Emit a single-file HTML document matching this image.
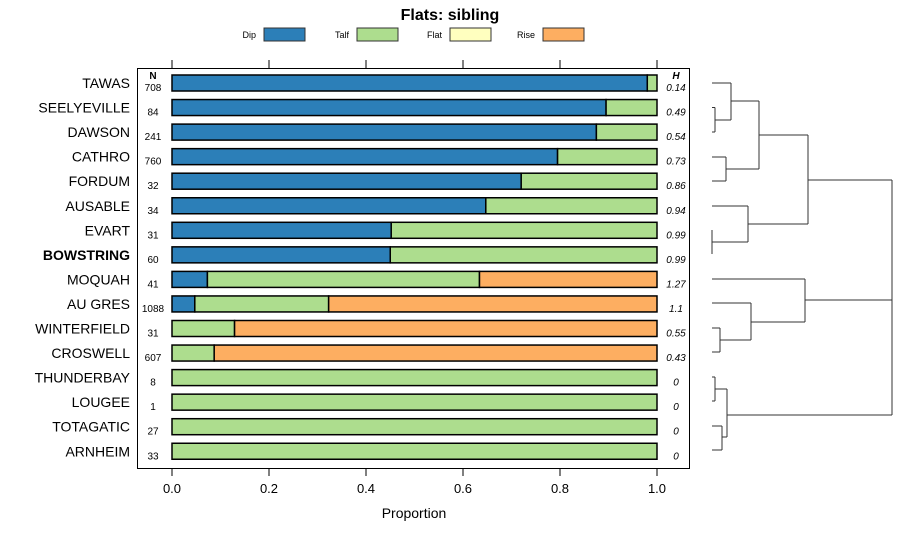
<!DOCTYPE html>
<html><head><meta charset="utf-8"><style>
body{margin:0;background:#fff;font-family:"Liberation Sans",sans-serif}
svg text{font-family:"Liberation Sans",sans-serif}
</style></head><body>
<svg id="c" width="900" height="540" xmlns="http://www.w3.org/2000/svg">
<text x="450" y="20" text-anchor="middle" font-size="16" font-weight="bold">Flats: sibling</text>
<g id="legend"></g>
<rect x="137.5" y="68.5" width="552" height="400" fill="none" stroke="#000"/>
<g id="bars"></g>
<g id="axis"></g>
<text x="414" y="518" text-anchor="middle" font-size="14">Proportion</text>
<text x="153" y="79" text-anchor="middle" font-size="10" font-weight="bold">N</text>
<text x="676" y="79" text-anchor="middle" font-size="10" font-weight="bold" font-style="italic">H</text>
<g id="dendro" fill="none" stroke="#333" stroke-width="1"></g>
</svg>
<script>
const sites=["TAWAS","SEELYEVILLE","DAWSON","CATHRO","FORDUM","AUSABLE","EVART","BOWSTRING","MOQUAH","AU GRES","WINTERFIELD","CROSWELL","THUNDERBAY","LOUGEE","TOTAGATIC","ARNHEIM"];
const nVals=[708,84,241,760,32,34,31,60,41,1088,31,607,8,1,27,33];
const hVals=["0.14","0.49","0.54","0.73","0.86","0.94","0.99","0.99","1.27","1.1","0.55","0.43","0","0","0","0"];
const dip=[0.98,0.895,0.875,0.795,0.72,0.647,0.452,0.45,0.073,0.047,0,0,0,0,0,0];
const talf=[0.02,0.105,0.125,0.205,0.28,0.353,0.548,0.55,0.561,0.276,0.129,0.087,1,1,1,1];
const flat=[0,0,0,0,0,0,0,0,0,0,0,0,0,0,0,0];
const rise=[0,0,0,0,0,0,0,0,0.366,0.677,0.871,0.913,0,0,0,0];
const ticks=[0,0.2,0.4,0.6,0.8,1.0];
const cats=["Dip","Talf","Flat","Rise"];
const colors=["#2c7fb8","#addd8e","#ffffbf","#fdae61"];
const NS="http://www.w3.org/2000/svg";
const X=v=>172+v*485;
const Y=i=>83+i*24.55;
function mk(t,a,p){const e=document.createElementNS(NS,t);for(const k in a)e.setAttribute(k,a[k]);p.appendChild(e);return e;}
const lg=document.getElementById('legend');
cats.forEach((c,i)=>{const x=264+i*93;
const t=mk('text',{x:x-8,y:38,'text-anchor':'end','font-size':9},lg);t.textContent=c;


const r=mk('rect',{x:x,y:28,width:41,height:13,fill:colors[i],stroke:'#333'},lg);

});
const bg=document.getElementById('bars');
const series=[dip,talf,flat,rise];
sites.forEach((s,i)=>{const y=Y(i);
const l=mk('text',{x:130,y:y+5,'text-anchor':'end','font-size':14,'font-weight':s==="BOWSTRING"?'bold':'normal'},bg);l.textContent=s;


const n=mk('text',{x:153,y:y+8,'text-anchor':'middle','font-size':10},bg);n.textContent=nVals[i];


const h=mk('text',{x:676,y:y+8,'text-anchor':'middle','font-size':10,'font-style':'italic'},bg);h.textContent=hVals[i];


let cum=0;
series.forEach((ser,k)=>{const v=ser[i];if(v>0){
const r=mk('rect',{x:X(cum),y:y-8,width:X(cum+v)-X(cum),height:16,fill:colors[k],stroke:'#000','stroke-width':1.5},bg);

cum+=v;}});
});
const ax=document.getElementById('axis');
ticks.forEach(t=>{mk('line',{x1:X(t),x2:X(t),y1:468,y2:476,stroke:'#000'},ax);
mk('line',{x1:X(t),x2:X(t),y1:60,y2:68,stroke:'#000'},ax);
const tx=mk('text',{x:X(t),y:493,'text-anchor':'middle','font-size':13},ax);tx.textContent=t.toFixed(1);

});
const dg=document.getElementById('dendro');
const segs=[[712,83,731,83],[712,107.5,715,107.5],[712,132,715,132],[715,107.5,715,132],[715,120,731,120],[731,83,731,120],[731,101,759,101],
[712,157,726,157],[712,181,726,181],[726,157,726,181],[726,169,759,169],[759,101,759,169],[759,135,808,135],
[712,206,748,206],[712,230,712,254],[712,242,748,242],[748,206,748,242],[748,224,808,224],[808,135,808,224],[808,180,892,180],
[712,279,805,279],[712,303,751,303],[712,328,720,328],[712,352,720,352],[720,328,720,352],[720,340,751,340],[751,303,751,340],[751,322,805,322],[805,279,805,322],[805,300,892,300],
[712,377,715,377],[712,401,715,401],[715,377,715,401],[715,389,727,389],[712,426,722,426],[712,450,722,450],[722,426,722,450],[722,437,727,437],[727,389,727,437],[727,415,892,415],[892,180,892,415]];
segs.forEach(s=>mk('line',{x1:s[0],y1:s[1],x2:s[2],y2:s[3]},dg));
</script>
</body></html>
